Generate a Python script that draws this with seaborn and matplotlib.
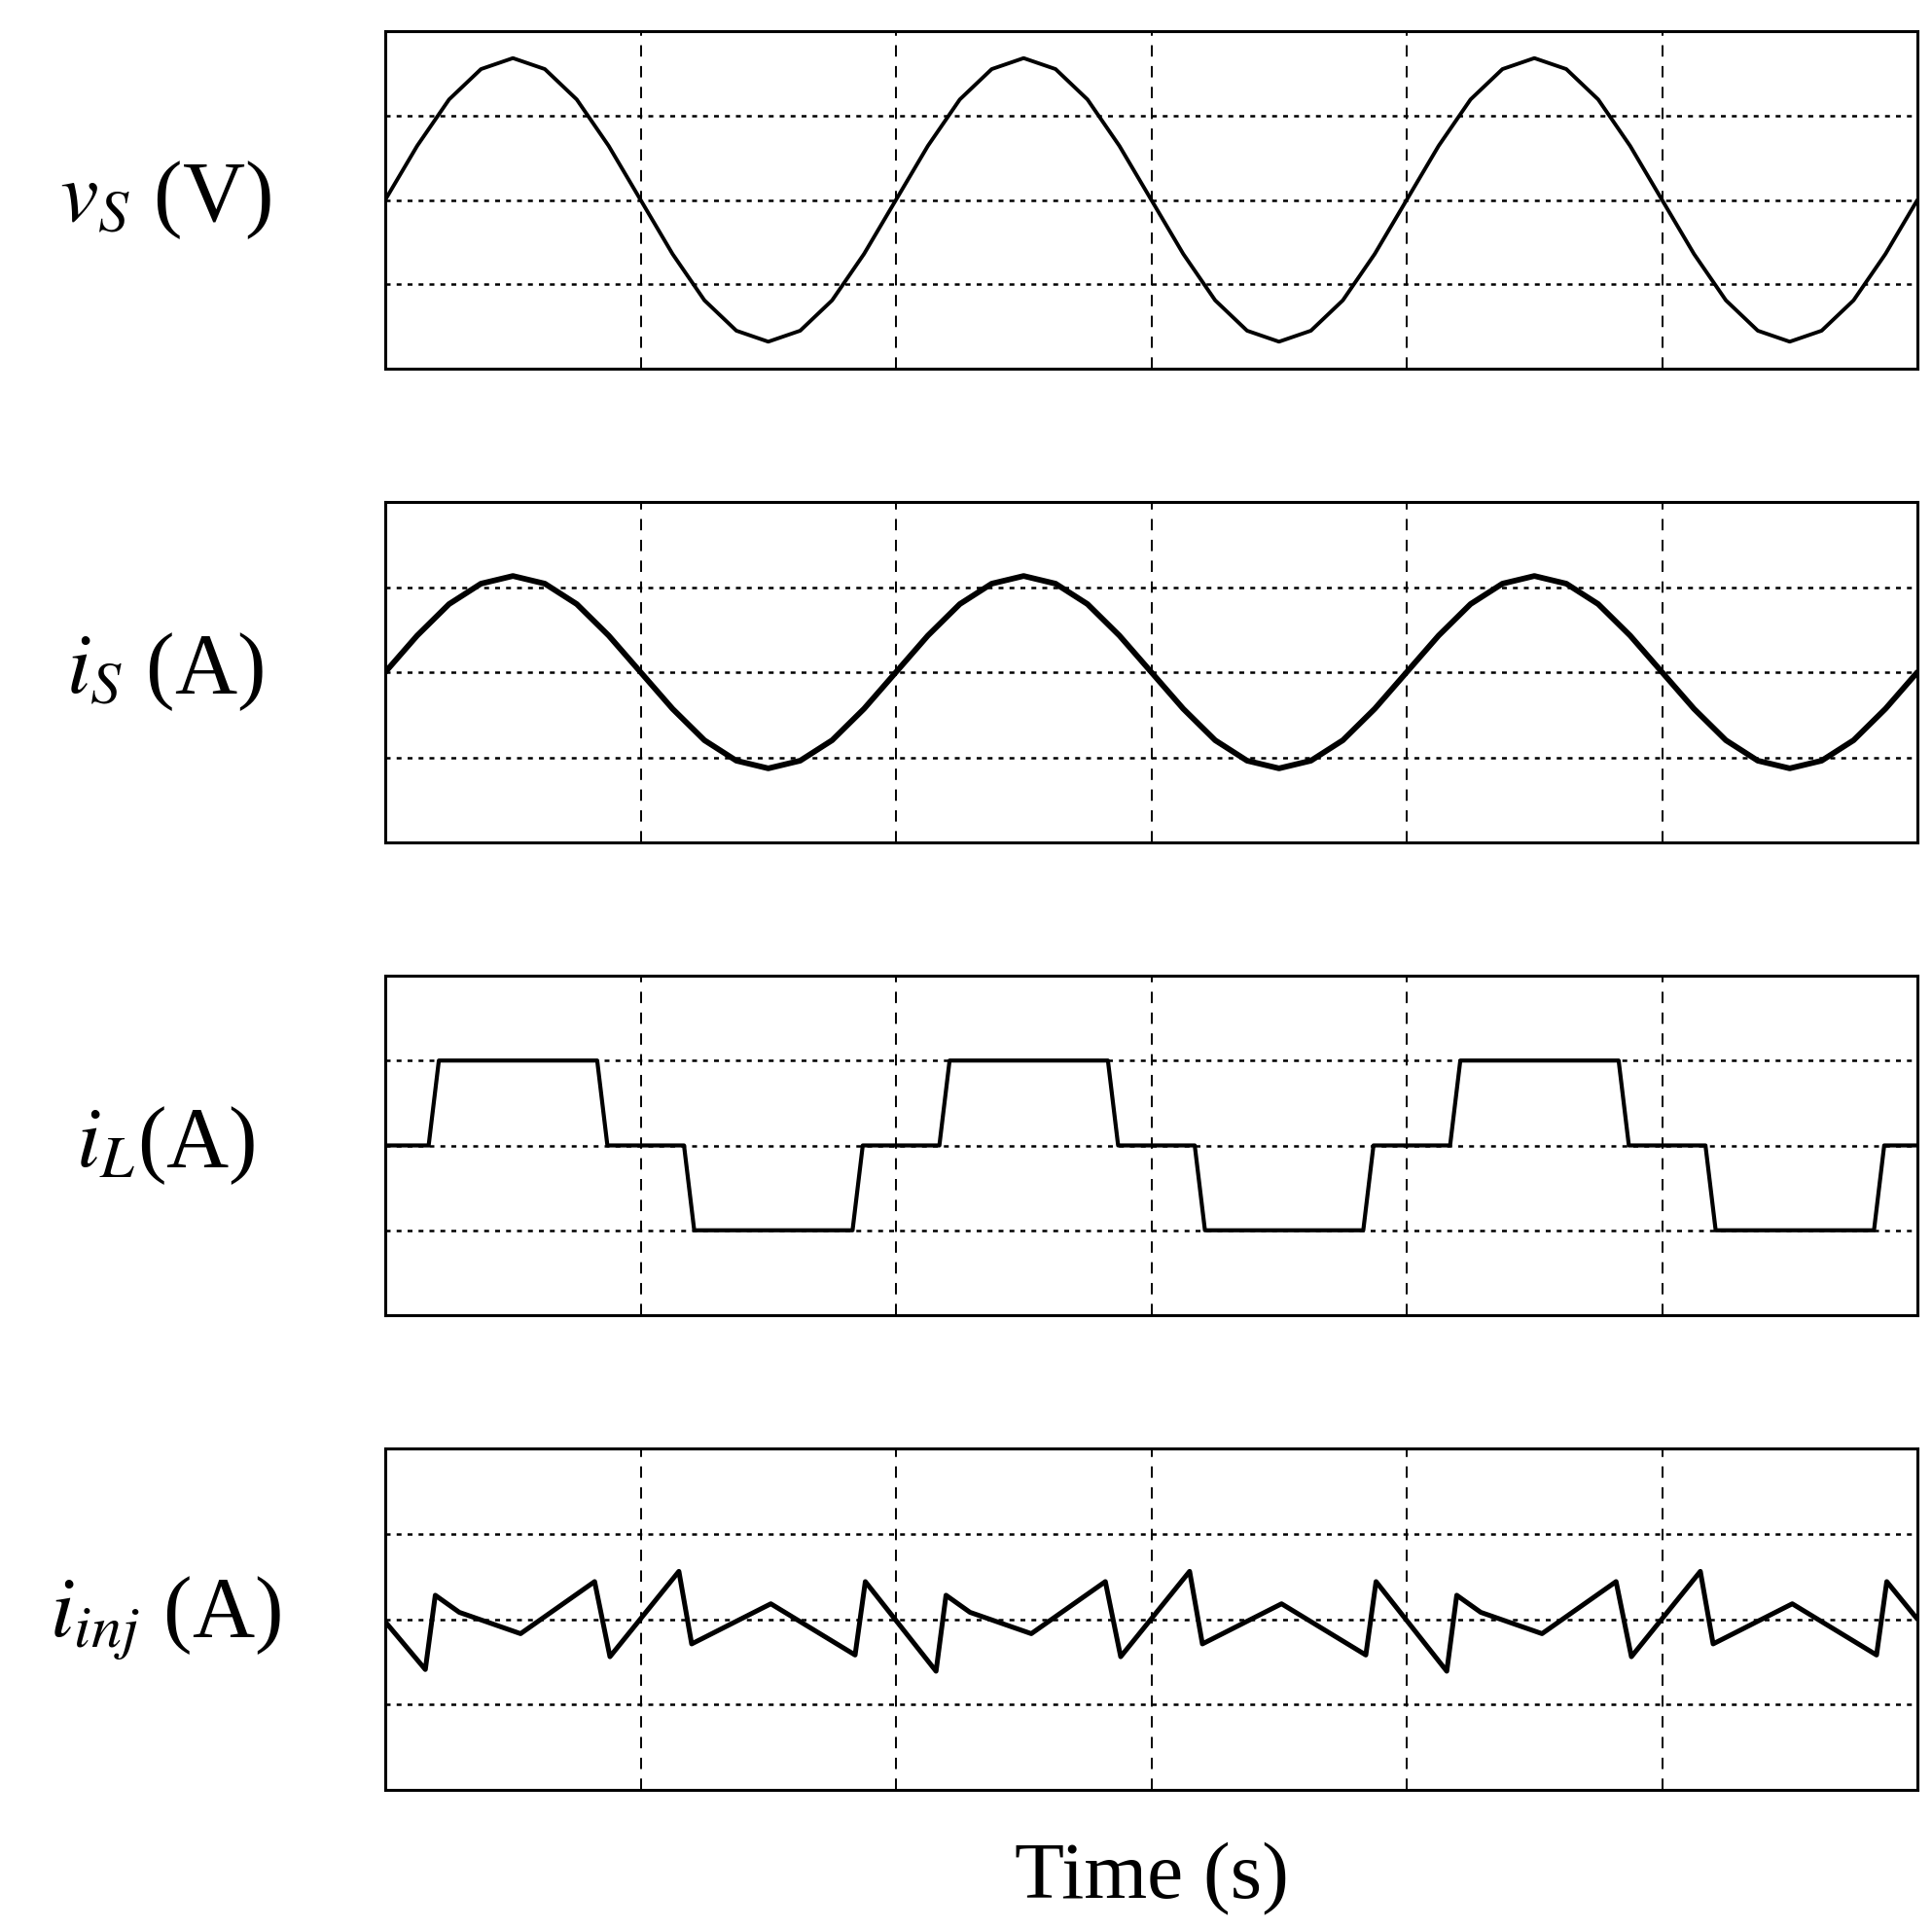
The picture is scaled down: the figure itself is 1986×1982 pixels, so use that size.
import matplotlib
matplotlib.use("Agg")
import matplotlib.pyplot as plt
import seaborn as sns
import numpy as np

sns.set_style("white")
plt.rcParams['font.family'] = ['Liberation Serif', 'DejaVu Serif']
plt.rcParams['mathtext.fontset'] = 'stix'
plt.rcParams['text.color'] = 'black'

# sampled at steps of 0.125 grid divisions
t_sine = [i * 0.125 for i in range(49)]
v_s = [0, 0.64, 1.19, 1.55, 1.68, 1.55, 1.19, 0.64, 0, -0.64, -1.19, -1.55, -1.68, -1.55, -1.19, -0.64,
       0, 0.64, 1.19, 1.55, 1.68, 1.55, 1.19, 0.64, 0, -0.64, -1.19, -1.55, -1.68, -1.55, -1.19, -0.64,
       0, 0.64, 1.19, 1.55, 1.68, 1.55, 1.19, 0.64, 0, -0.64, -1.19, -1.55, -1.68, -1.55, -1.19, -0.64, 0]
i_s = [0, 0.43, 0.80, 1.04, 1.13, 1.04, 0.80, 0.43, 0, -0.43, -0.80, -1.04, -1.13, -1.04, -0.80, -0.43,
       0, 0.43, 0.80, 1.04, 1.13, 1.04, 0.80, 0.43, 0, -0.43, -0.80, -1.04, -1.13, -1.04, -0.80, -0.43,
       0, 0.43, 0.80, 1.04, 1.13, 1.04, 0.80, 0.43, 0, -0.43, -0.80, -1.04, -1.13, -1.04, -0.80, -0.43, 0]

t_L = [0, 0.17, 0.21, 0.83, 0.87, 1.17, 1.21, 1.83, 1.87,
       2.17, 2.21, 2.83, 2.87, 3.17, 3.21, 3.83, 3.87,
       4.17, 4.21, 4.83, 4.87, 5.17, 5.21, 5.83, 5.87, 6.0]
i_L = [0, 0, 1, 1, 0, 0, -1, -1, 0,
       0, 1, 1, 0, 0, -1, -1, 0,
       0, 1, 1, 0, 0, -1, -1, 0, 0]

t_inj = [0, 0.157, 0.196, 0.29, 0.53, 0.82, 0.88, 1.15, 1.20, 1.51, 1.84, 1.88,
         2.157, 2.196, 2.29, 2.53, 2.82, 2.88, 3.15, 3.20, 3.51, 3.84, 3.88,
         4.157, 4.196, 4.29, 4.53, 4.82, 4.88, 5.15, 5.20, 5.51, 5.84, 5.88, 6.0]
i_inj = [-0.03, -0.59, 0.28, 0.08, -0.17, 0.44, -0.44, 0.56, -0.29, 0.18, -0.42, 0.44,
         -0.61, 0.28, 0.08, -0.17, 0.44, -0.44, 0.56, -0.29, 0.18, -0.42, 0.44,
         -0.61, 0.28, 0.08, -0.17, 0.44, -0.44, 0.56, -0.29, 0.18, -0.42, 0.44, 0.0]

labels = [r"$v_S$ (V)", r"$i_S$ (A)", r"$i_L$(A)", r"$i_{inj}$ (A)"]
series = [(t_sine, v_s, 2.8), (t_sine, i_s, 4.2), (t_L, i_L, 3.0), (t_inj, i_inj, 3.6)]

fig = plt.figure(figsize=(19.86, 19.82), dpi=100)
W, H = 1986, 1982
panels = [(32, 379), (516, 866), (1003, 1352), (1489, 1840)]
x0, x1 = 396, 1971
for (top, bot), (tx, ty, lw), lab in zip(panels, series, labels):
    ax = fig.add_axes([x0 / W, 1 - bot / H, (x1 - x0) / W, (bot - top) / H])
    sns.lineplot(x=tx, y=ty, ax=ax, color='black', lw=lw, estimator=None, sort=False)
    ax.set_xlim(0, 6)
    ax.set_ylim(-2, 2)
    for xv in range(1, 6):
        ax.axvline(xv, color='black', lw=1.4, ls=(0, (6, 5)), zorder=0)
    for yv in (-1, 0, 1):
        ax.axhline(yv, color='black', lw=1.8, ls=(0, (2, 2.5)), zorder=0)
    ax.set_xticks([]); ax.set_yticks([])
    for s in ax.spines.values():
        s.set_color('black'); s.set_linewidth(2.2)
    fig.text(170 / W, 1 - ((top + bot) / 2) / H, lab, fontsize=64, ha='center', va='center')

fig.text((x0 + x1) / 2 / W, 1 - 1932 / H, "Time (s)", fontsize=60, ha='center', va='center')
fig.savefig("out.png", dpi=100)
